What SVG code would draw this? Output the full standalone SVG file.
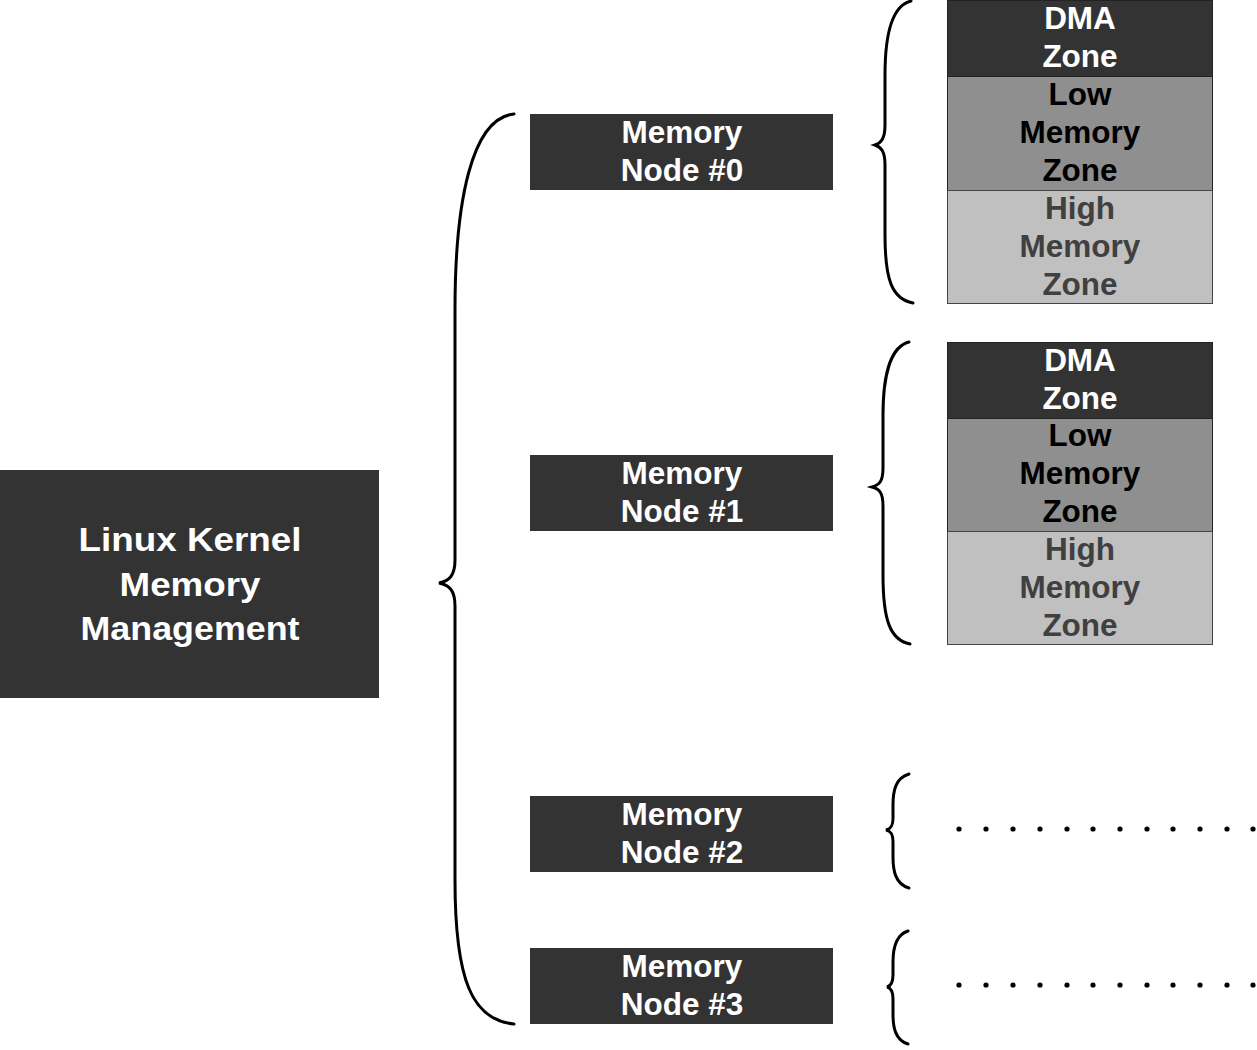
<svg xmlns="http://www.w3.org/2000/svg" width="1257" height="1050" viewBox="0 0 1257 1050">
<style>
text{font-family:"Liberation Sans",Arial,sans-serif;font-weight:bold;text-anchor:middle}
.dark{fill:#333333}
.node text{font-size:31.5px;fill:#ffffff}
.brace{fill:none;stroke:#000;stroke-width:3;stroke-linecap:round}
.zdma{fill:#333333;stroke:#222;stroke-width:1}
.zlow{fill:#8f8f8f;stroke:#222;stroke-width:1}
.zhigh{fill:#c0c0c0;stroke:#444;stroke-width:1}
.zone text{font-size:31.5px}
.tdma{fill:#ffffff}
.tlow{fill:#000000}
.thigh{fill:#404040}
.big{font-size:34px;fill:#ffffff}
</style>
<rect width="1257" height="1050" fill="#ffffff"/>
<g id="root">
<rect class="dark" x="0" y="470" width="379" height="228"/>
<text class="big" x="190" y="551" textLength="223" lengthAdjust="spacingAndGlyphs">Linux Kernel</text>
<text class="big" x="190" y="596" textLength="141" lengthAdjust="spacingAndGlyphs">Memory</text>
<text class="big" x="190" y="640" textLength="219" lengthAdjust="spacingAndGlyphs">Management</text>
</g>
<g id="node0" class="node">
<rect class="dark" x="530" y="114" width="303" height="76"/>
<text x="682" y="143">Memory</text><text x="682" y="181">Node #0</text>
</g>
<g id="node1" class="node">
<rect class="dark" x="530" y="455" width="303" height="76"/>
<text x="682" y="484">Memory</text><text x="682" y="522">Node #1</text>
</g>
<g id="node2" class="node">
<rect class="dark" x="530" y="796" width="303" height="76"/>
<text x="682" y="825">Memory</text><text x="682" y="863">Node #2</text>
</g>
<g id="node3" class="node">
<rect class="dark" x="530" y="948" width="303" height="76"/>
<text x="682" y="977">Memory</text><text x="682" y="1015">Node #3</text>
</g>
<g id="zones0" class="zone">
<rect class="zdma" x="947.5" y="0.5" width="265" height="76"/>
<rect class="zlow" x="947.5" y="76.5" width="265" height="114"/>
<rect class="zhigh" x="947.5" y="190.5" width="265" height="113"/>
<text class="tdma" x="1080" y="29">DMA</text><text class="tdma" x="1080" y="67">Zone</text>
<text class="tlow" x="1080" y="105">Low</text><text class="tlow" x="1080" y="143">Memory</text><text class="tlow" x="1080" y="181">Zone</text>
<text class="thigh" x="1080" y="219">High</text><text class="thigh" x="1080" y="257">Memory</text><text class="thigh" x="1080" y="295">Zone</text>
</g>
<g id="zones1" class="zone">
<rect class="zdma" x="947.5" y="342.5" width="265" height="76"/>
<rect class="zlow" x="947.5" y="418.5" width="265" height="113"/>
<rect class="zhigh" x="947.5" y="531.5" width="265" height="113"/>
<text class="tdma" x="1080" y="371">DMA</text><text class="tdma" x="1080" y="409">Zone</text>
<text class="tlow" x="1080" y="446">Low</text><text class="tlow" x="1080" y="484">Memory</text><text class="tlow" x="1080" y="522">Zone</text>
<text class="thigh" x="1080" y="560">High</text><text class="thigh" x="1080" y="598">Memory</text><text class="thigh" x="1080" y="636">Zone</text>
</g>
<g id="connectors">
<path class="brace" d="M514,114 C472,118 455,200 455,310 L455,560 C455,576 449,581 439,583 C449,585 455,590 455,606 L455,880 C455,980 472,1020 514,1024"/>
<path class="brace" d="M911,1 C890,6 885,40 885,75 L885,125 C885,139 881,143 875,145 C881,147 885,151 885,165 L885,235 C885,280 892,299 913,303"/>
<path class="brace" d="M909,342 C889,347 883,380 883,415 L883,468 C883,482 879,485 872,487 C879,489 883,492 883,506 L883,575 C883,620 890,640 910,644"/>
<path class="brace" d="M909,774 C895,778 893,792 893,805 L893,818 C893,826 891,829 886,830 C891,831 893,834 893,842 L893,857 C893,870 895,884 909,888"/>
<path class="brace" d="M908,931 C895,935 893,949 893,962 L893,975 C893,983 891,986 887,987 C891,988 893,991 893,999 L893,1014 C893,1027 895,1040 908,1044"/>
</g>
<g id="dots2" fill="#000">
<circle cx="959" cy="829" r="2.6"/><circle cx="986" cy="829" r="2.6"/><circle cx="1013" cy="829" r="2.6"/><circle cx="1040" cy="829" r="2.6"/><circle cx="1067" cy="829" r="2.6"/><circle cx="1093" cy="829" r="2.6"/><circle cx="1120" cy="829" r="2.6"/><circle cx="1147" cy="829" r="2.6"/><circle cx="1173" cy="829" r="2.6"/><circle cx="1200" cy="829" r="2.6"/><circle cx="1227" cy="829" r="2.6"/><circle cx="1253" cy="829" r="2.6"/>
</g>
<g id="dots3" fill="#000">
<circle cx="959" cy="985" r="2.6"/><circle cx="986" cy="985" r="2.6"/><circle cx="1013" cy="985" r="2.6"/><circle cx="1040" cy="985" r="2.6"/><circle cx="1067" cy="985" r="2.6"/><circle cx="1093" cy="985" r="2.6"/><circle cx="1120" cy="985" r="2.6"/><circle cx="1147" cy="985" r="2.6"/><circle cx="1173" cy="985" r="2.6"/><circle cx="1200" cy="985" r="2.6"/><circle cx="1227" cy="985" r="2.6"/><circle cx="1253" cy="985" r="2.6"/>
</g>
</svg>
